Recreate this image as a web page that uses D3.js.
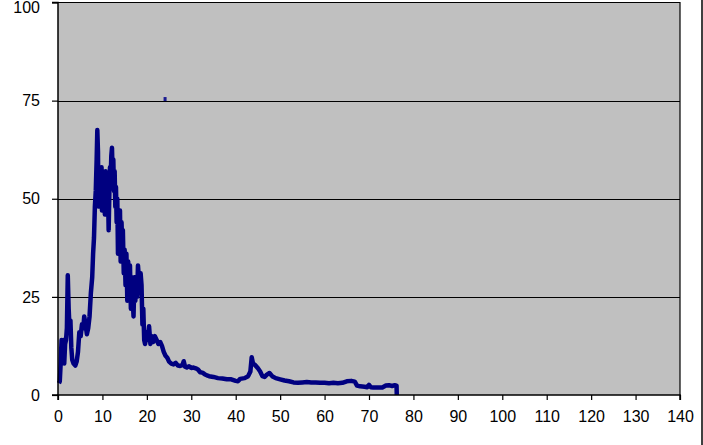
<!DOCTYPE html>
<html>
<head>
<meta charset="utf-8">
<script src="https://cdn.jsdelivr.net/npm/d3@7"></script>
<style>
  html, body { margin: 0; padding: 0; background: #fff; }
  svg { display: block; }
</style>
</head>
<body>
<svg id="chart" width="703" height="445"></svg>
<script>
// ---- data ----
const xTicks = [0, 10, 20, 30, 40, 50, 60, 70, 80, 90, 100, 110, 120, 130, 140];
const yTicks = [0, 25, 50, 75, 100];
const xValues = [
  0.2, 0.4, 0.6, 0.8, 1.0, 1.2, 1.4, 1.6, 1.8, 2.0, 2.2, 2.4, 2.6, 2.8, 3.0, 3.2, 3.5, 3.9,
  4.2, 4.5, 4.8, 5.1, 5.4, 5.7, 5.9, 6.2, 6.5, 6.8, 7.1, 7.4, 7.7, 7.9, 8.1, 8.3, 8.5, 8.7,
  8.85, 9.0, 9.1, 9.2, 9.35, 9.5, 9.65, 9.8, 9.9, 10.05, 10.2, 10.4, 10.55, 10.7, 10.85, 11.0,
  11.15, 11.3, 11.4, 11.55, 11.7, 11.85, 12.0, 12.15, 12.3, 12.45, 12.6, 12.75, 12.9, 13.05,
  13.2, 13.35, 13.5, 13.65, 13.8, 13.95, 14.1, 14.3, 14.45, 14.6, 14.8, 15.0, 15.2, 15.4,
  15.6, 15.8, 16.0, 16.2, 16.4, 16.6, 16.8, 17.0, 17.2, 17.4, 17.6, 17.8, 18.0, 18.2, 18.4,
  18.6, 18.8, 19.0, 19.2, 19.4, 19.6, 19.9, 20.2, 20.5, 20.8, 21.1, 21.4, 21.8, 22.2, 22.6,
  23.0, 23.4, 23.8, 24.2, 24.6, 25.0, 25.5, 26.0, 26.5, 27.0, 27.5, 28.0, 28.3, 28.6, 29.0,
  29.5, 30.0, 30.5, 31.0, 31.5, 32.0, 32.5, 33.0, 33.5, 34.0, 35.0, 36.0, 37.0, 38.0, 39.0,
  40.0, 40.5, 41.0, 42.0, 42.8, 43.3, 43.6, 43.9, 44.4, 45.0, 45.5, 46.0, 46.5, 47.0, 47.6,
  48.2, 49.0, 50.0, 51.0, 52.0, 53.0, 54.0, 55.0, 56.0, 57.0, 58.0, 59.0, 60.0, 61.0, 62.0,
  63.0, 64.0, 65.0, 66.0, 66.8, 67.3, 68.0, 69.0, 69.6, 70.0, 70.4, 71.0, 72.0, 73.0, 73.8,
  74.5, 75.2, 75.8, 76.2, 76.25
];
const yValues = [
  3, 3.5, 8, 14, 9, 14, 8, 13, 14, 17, 30.5, 22, 17, 19, 12, 9, 8, 7.5,
  8.5, 11, 16, 15, 18, 17, 20, 18, 15.5, 17, 20, 26, 30, 36, 40, 48, 52, 60,
  67.5, 62, 48, 56, 50, 55, 52, 58, 47, 54, 50, 56.5, 46, 57, 52, 53,
  46, 49, 42, 51, 58, 55, 61, 63, 56, 60, 52, 57, 48, 53,
  44, 50, 36, 46, 40, 47, 34, 44, 38, 42, 31, 37, 28, 36,
  24, 34, 26, 33, 22, 30, 25, 20, 30, 24, 30, 25, 33, 30, 26,
  31, 28, 18, 22, 14, 13, 16, 14, 17.5, 13, 15, 13.5, 15, 14, 13,
  13.5, 12.5, 11, 10, 9.5, 8.5, 8, 7.8, 8.2, 7.5, 7.4, 7.6, 8.6, 7.2, 7,
  7.3, 6.9, 7, 6.8, 6.5, 5.8, 5.7, 5.3, 5, 4.8, 4.6, 4.3, 4.2, 4, 4,
  3.6, 3.5, 4.1, 4.3, 4.8, 6, 9.6, 8, 7.6, 6.8, 6, 4.8, 4.6, 5.2, 5.6,
  4.8, 4.3, 4, 3.7, 3.5, 3.2, 3.1, 3.2, 3.3, 3.2, 3.2, 3.1, 3.1, 3.0, 3.1,
  3.0, 3.1, 3.5, 3.6, 3.4, 2.4, 2.2, 2.1, 2.0, 2.6, 2.0, 1.9, 1.9, 1.9, 2.4,
  2.5, 2.3, 2.5, 2.4, 0
];
const strayX = [24.1];
const strayY = [75.4];

// ---- layout ----
const svg = d3.select("#chart");
const plotLeft = 58, plotRight = 680, plotTop = 2.5, plotBottom = 395;

const x = d3.scaleLinear().domain([0, 140]).range([plotLeft, plotRight]);
const y = d3.scaleLinear().domain([0, 100]).range([plotBottom, plotTop]);

// plot background
svg.append("rect")
  .attr("x", plotLeft).attr("y", plotTop)
  .attr("width", plotRight - plotLeft).attr("height", plotBottom - plotTop)
  .attr("fill", "#c0c0c0");

// gridlines
svg.append("g").selectAll("line")
  .data(yTicks.filter(d => d > 0 && d < 100))
  .join("line")
  .attr("x1", plotLeft).attr("x2", plotRight)
  .attr("y1", d => Math.round(y(d)) + 0.5).attr("y2", d => Math.round(y(d)) + 0.5)
  .attr("stroke", "#000").attr("stroke-width", 1);

// plot border (top & right)
svg.append("path")
  .attr("d", `M${plotLeft},${plotTop}H${plotRight}V${plotBottom}`)
  .attr("fill", "none").attr("stroke", "#000").attr("stroke-width", 1.2);

// line
const data = xValues.map((v, i) => [v, yValues[i]]);
svg.append("path")
  .datum(data)
  .attr("fill", "none")
  .attr("stroke", "#000080")
  .attr("stroke-width", 4.5)
  .attr("stroke-linejoin", "round")
  .attr("stroke-linecap", "butt")
  .attr("d", d3.line().x(d => x(d[0])).y(d => y(d[1])));

// stray mark
svg.append("g").selectAll("rect")
  .data(strayX.map((v, i) => [v, strayY[i]]))
  .join("rect")
  .attr("x", d => x(d[0]) - 1.5).attr("y", d => y(d[1]) - 2)
  .attr("width", 3).attr("height", 4)
  .attr("fill", "#1a1a90");

// axes
const yAxis = d3.axisLeft(y).tickValues(yTicks).tickSize(6).tickPadding(12);
const gy = svg.append("g").attr("transform", `translate(${plotLeft},0)`).call(yAxis);
const xAxis = d3.axisBottom(x).tickValues(xTicks).tickSize(5).tickPadding(11);
const gx = svg.append("g").attr("transform", `translate(0,${plotBottom})`).call(xAxis);

[gx, gy].forEach(g => {
  g.select(".domain").attr("stroke", "#000").attr("stroke-width", 1.5);
  g.selectAll(".tick line").attr("stroke", "#000").attr("stroke-width", 1.2);
  g.selectAll("text")
    .attr("fill", "#000")
    .style("font-family", "'Liberation Sans', Arial, sans-serif")
    .style("font-size", "16px");
});
// keep the top label inside the picture
gy.selectAll(".tick text").filter(d => d === 100).attr("dy", "0.62em");
gy.select(".domain").attr("d", `M-6,${plotBottom}H0V${plotTop}H-6`);
gx.select(".domain").attr("d", `M${plotLeft},5V0H${plotRight}V5`);

// outer right border line
svg.append("line")
  .attr("x1", 702).attr("x2", 702).attr("y1", 0).attr("y2", 445)
  .attr("stroke", "#000").attr("stroke-width", 1.5);
</script>
</body>
</html>
